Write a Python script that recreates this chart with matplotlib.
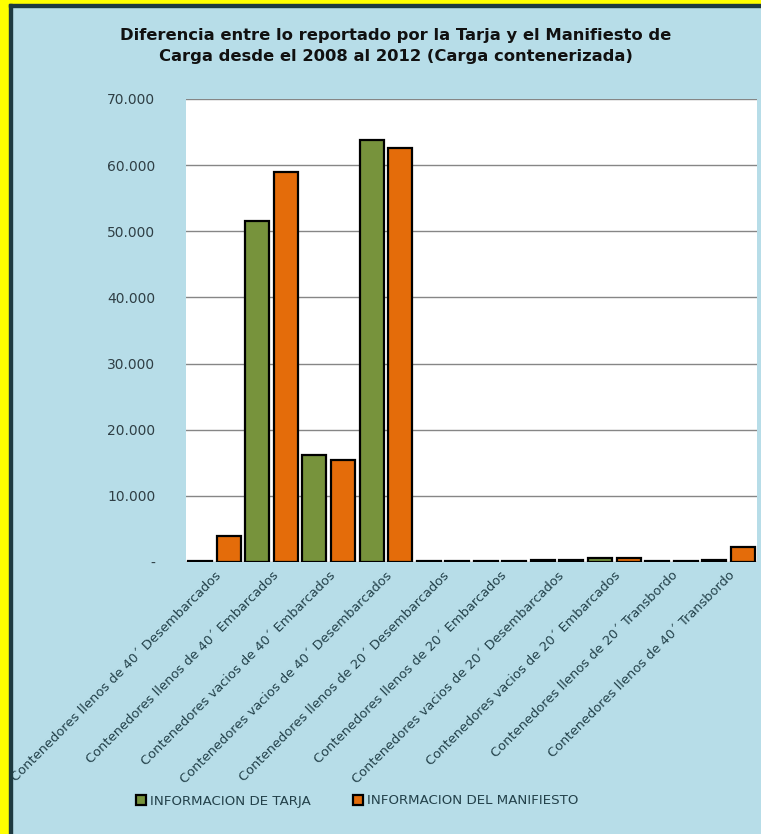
import numpy as np
import matplotlib.pyplot as plt
from matplotlib.patches import Rectangle
from matplotlib.ticker import FuncFormatter

categories = [
    "Contenedores llenos de 40´ Desembarcados",
    "Contenedores llenos de 40´ Embarcados",
    "Contenedores vacios de 40´ Embarcados",
    "Contenedores vacios de 40´ Desembarcados",
    "Contenedores llenos de 20´ Desembarcados",
    "Contenedores llenos de 20´ Embarcados",
    "Contenedores vacios de 20´ Desembarcados",
    "Contenedores vacios de 20´ Embarcados",
    "Contenedores llenos de 20´ Transbordo",
    "Contenedores llenos de 40´ Transbordo",
]
tarja = [150, 51600, 16200, 63800, 150, 150, 300, 600, 150, 300]
manifiesto = [3900, 59000, 15400, 62600, 150, 150, 300, 600, 150, 2300]
legend_labels = ["INFORMACION DE TARJA", "INFORMACION DEL MANIFIESTO"]

bg = "#B7DDE8"
green = "#77933C"
orange = "#E46C0A"

fig = plt.figure(figsize=(7.61, 8.34), dpi=100, facecolor=bg)

# yellow frame + dark border (left and top only, picture is cropped)
W, H = 761, 834
fig.patches.append(Rectangle((0, 0), 9 / W, 1, transform=fig.transFigure, color="#FFFF00", zorder=0))
fig.patches.append(Rectangle((0, 1 - 4 / H), 1, 4 / H, transform=fig.transFigure, color="#FFFF00", zorder=0))
fig.patches.append(Rectangle((9 / W, 0), 3 / W, 1 - 4 / H, transform=fig.transFigure, color="#1E3A40", zorder=1))
fig.patches.append(Rectangle((9 / W, 1 - 7 / H), 1 - 9 / W, 3 / H, transform=fig.transFigure, color="#1E3A40", zorder=1))

ax = fig.add_axes([186 / W, 1 - 562 / H, (757 - 186) / W, (562 - 99) / H])
ax.set_facecolor("white")

x = np.arange(len(categories))
w = 0.42
ax.bar(x - 0.25, tarja, w, color=green, edgecolor="black", linewidth=1.6, label=legend_labels[0], zorder=3)
ax.bar(x + 0.25, manifiesto, w, color=orange, edgecolor="black", linewidth=1.6, label=legend_labels[1], zorder=3)

ax.set_xlim(-0.5, len(categories) - 0.5)
ax.set_ylim(0, 70000)
ax.set_yticks(range(0, 70001, 10000))
ax.yaxis.set_major_formatter(FuncFormatter(lambda v, p: "-" if v == 0 else f"{int(v):,}".replace(",", ".")))
ax.grid(axis="y", color="#868686", linewidth=1, zorder=0)
ax.set_axisbelow(True)
for s in ax.spines.values():
    s.set_visible(False)
ax.tick_params(axis="both", length=0, colors="#2F3F45")
ax.tick_params(axis="y", labelsize=10, pad=22)

ax.set_xticks(x)
ax.set_xticklabels(categories, rotation=45, ha="right", rotation_mode="anchor", fontsize=9.4, color="#23414A")
ax.tick_params(axis="x", pad=5)

fig.text(396 / W, 1 - 46 / H,
         "Diferencia entre lo reportado por la Tarja y el Manifiesto de\nCarga desde el 2008 al 2012 (Carga contenerizada)",
         ha="center", va="center", fontsize=11.8, fontweight="bold", color="#111111", linespacing=1.55)

fig.legend(loc="center", bbox_to_anchor=(357 / W, 1 - 801 / H), ncol=2, frameon=False,
           fontsize=9.6, handlelength=0.75, handleheight=0.75, handletextpad=0.3, columnspacing=3.2,
           labelcolor="#23414A")

fig.savefig("out.png", dpi=100, facecolor=bg)
